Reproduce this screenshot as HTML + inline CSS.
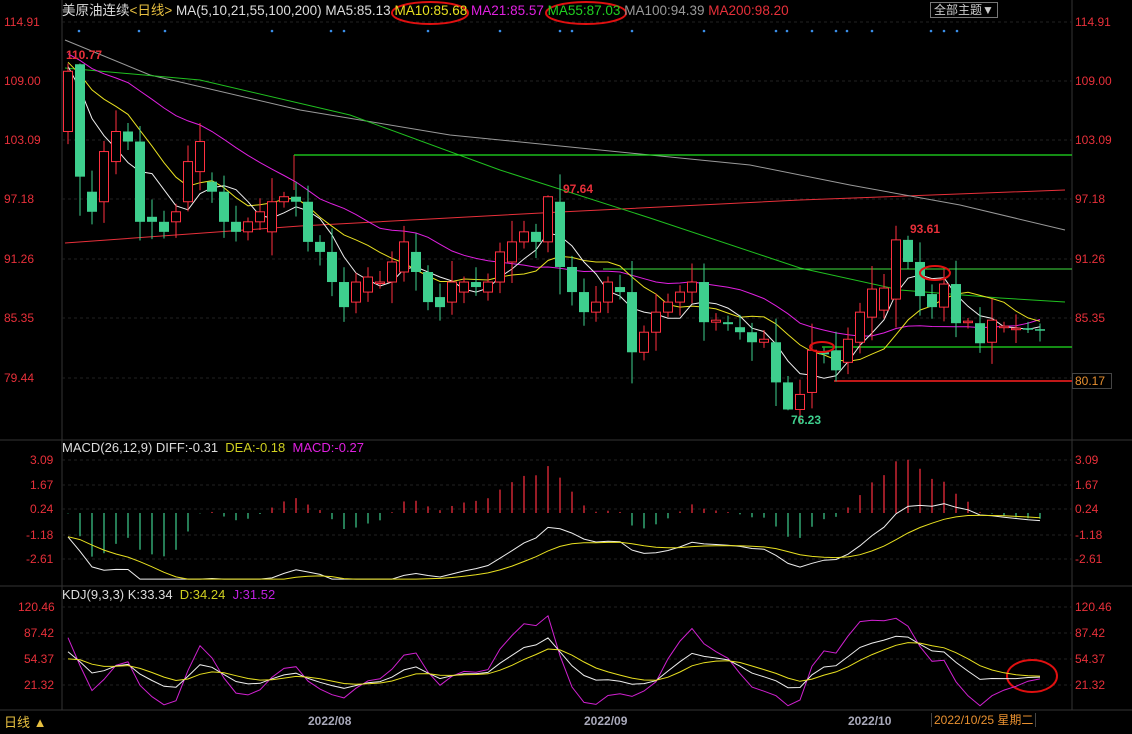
<!DOCTYPE html>
<html><head><meta charset="utf-8">
<style>
html,body{margin:0;padding:0;background:#000;}
body{width:1132px;height:734px;overflow:hidden;position:relative;font-family:"Liberation Sans","Noto Sans CJK SC",sans-serif;}
.t{position:absolute;font-size:12px;white-space:nowrap;line-height:14px;}
.r{color:#e8303a;}
</style></head><body>
<svg id="s" width="1132" height="734" style="position:absolute;left:0;top:0" xmlns="http://www.w3.org/2000/svg"></svg>

<div class="t" style="left:62px;top:4px;color:#ddd;font-size:13.5px">美原油连续<span style="color:#e8c040">&lt;日线&gt;</span> <span style="color:#ddd">MA(5,10,21,55,100,200) MA5:85.13</span> <span style="color:#e8e020">MA10:85.68</span> <span style="color:#e020e0">MA21:85.57</span> <span style="color:#20d020">MA55:87.03</span> <span style="color:#999">MA100:94.39</span> <span style="color:#e8303a">MA200:98.20</span></div>
<div class="t" style="left:930px;top:2px;color:#ccc;border:1px solid #777;padding:0 3px;">全部主题▼</div>
<div class="t" style="left:62px;top:441px;color:#ddd;font-size:13px">MACD(26,12,9) DIFF:-0.31 &nbsp;<span style="color:#d0d020">DEA:-0.18</span> &nbsp;<span style="color:#e020e0">MACD:-0.27</span></div>
<div class="t" style="left:62px;top:588px;color:#ddd;font-size:13px">KDJ(9,3,3) K:33.34 &nbsp;<span style="color:#d0d020">D:34.24</span> &nbsp;<span style="color:#c020e0">J:31.52</span></div>

<div class="t r" style="left:4px;top:15px">114.91</div><div class="t r" style="left:1075px;top:15px">114.91</div>
<div class="t r" style="left:4px;top:74px">109.00</div><div class="t r" style="left:1075px;top:74px">109.00</div>
<div class="t r" style="left:4px;top:133px">103.09</div><div class="t r" style="left:1075px;top:133px">103.09</div>
<div class="t r" style="left:4px;top:192px">97.18</div><div class="t r" style="left:1075px;top:192px">97.18</div>
<div class="t r" style="left:4px;top:252px">91.26</div><div class="t r" style="left:1075px;top:252px">91.26</div>
<div class="t r" style="left:4px;top:311px">85.35</div><div class="t r" style="left:1075px;top:311px">85.35</div>
<div class="t r" style="left:4px;top:371px">79.44</div>
<div class="t" style="left:1072px;top:373px;color:#e89030;border:1px solid #444;padding:0 6px 0 2px;">80.17</div>

<div class="t r" style="left:30px;top:453px">3.09</div><div class="t r" style="left:1075px;top:453px">3.09</div>
<div class="t r" style="left:30px;top:478px">1.67</div><div class="t r" style="left:1075px;top:478px">1.67</div>
<div class="t r" style="left:30px;top:502px">0.24</div><div class="t r" style="left:1075px;top:502px">0.24</div>
<div class="t r" style="left:26px;top:528px">-1.18</div><div class="t r" style="left:1075px;top:528px">-1.18</div>
<div class="t r" style="left:26px;top:552px">-2.61</div><div class="t r" style="left:1075px;top:552px">-2.61</div>

<div class="t r" style="left:18px;top:600px">120.46</div><div class="t r" style="left:1075px;top:600px">120.46</div>
<div class="t r" style="left:24px;top:626px">87.42</div><div class="t r" style="left:1075px;top:626px">87.42</div>
<div class="t r" style="left:24px;top:652px">54.37</div><div class="t r" style="left:1075px;top:652px">54.37</div>
<div class="t r" style="left:24px;top:678px">21.32</div><div class="t r" style="left:1075px;top:678px">21.32</div>

<div class="t" style="left:66px;top:48px;color:#e8303a;font-weight:bold">110.77</div>
<div class="t" style="left:563px;top:182px;color:#e8303a;font-weight:bold">97.64</div>
<div class="t" style="left:910px;top:222px;color:#e8303a;font-weight:bold">93.61</div>
<div class="t" style="left:791px;top:413px;color:#3ecf8e;font-weight:bold">76.23</div>

<div class="t" style="left:4px;top:716px;color:#e8c040;font-size:13px">日线 ▲</div>
<div class="t" style="left:308px;top:714px;color:#aab;font-weight:bold">2022/08</div>
<div class="t" style="left:584px;top:714px;color:#aab;font-weight:bold">2022/09</div>
<div class="t" style="left:848px;top:714px;color:#aab;font-weight:bold">2022/10</div>
<div class="t" style="left:931px;top:713px;color:#e89030;border-left:1px solid #444;border-right:1px solid #444;padding:0 2px">2022/10/25 星期二</div>

<script>
var s=document.getElementById('s'),h='';
function L(x1,y1,x2,y2,c,w,d){h+='<line x1="'+x1+'" y1="'+y1+'" x2="'+x2+'" y2="'+y2+'" stroke="'+c+'" stroke-width="'+(w||1)+'"'+(d?' stroke-dasharray="'+d+'"':'')+'/>';}
function P(pts,c,w){h+='<polyline fill="none" stroke="'+c+'" stroke-width="'+(w||1)+'" points="'+pts.map(function(p){return p[0].toFixed(1)+','+p[1].toFixed(1)}).join(' ')+'"/>';}
L(62,0,62,710,'#333');L(1072,0,1072,710,'#333');
L(0,440,1132,440,'#333');L(0,586,1132,586,'#333');L(0,710,1132,710,'#333');
[22,81,140,199,259,318,378].forEach(function(y){L(62,y,1072,y,'#222',1,'3,3')});
[460,485,509,535,559].forEach(function(y){L(62,y,1072,y,'#222',1,'3,3')});
[607,633,659,685].forEach(function(y){L(62,y,1072,y,'#222',1,'3,3')});
[79,139,165,272,331,344,428,500,560,572,632,704,776,787,812,836,847,872,931,944,957].forEach(function(x){h+='<circle cx="'+x+'" cy="31" r="1.3" fill="#3a8ee8"/>'});
var Y=function(p){return 22+(114.91-p)*10.036;};
var oc=[[104,110],[110.7,99.5],[98,96],[97,102],[101,104],[104,103],[103,95],[95.5,95],[95,94],[95,96],[97,101],[100,103],[99,98],[98,95],[95,94],[94,95],[95,96],[94,97],[97,97.5],[97.5,97],[97,93],[93,92],[92,89],[89,86.5],[87,89],[88,89.5],[89,89],[89,91],[90,93],[92,90],[90,87],[87.5,86.5],[87,89],[88,89],[89,88.5],[88,89],[89,92],[91,93],[93,94],[94,93],[93,97.5],[97,90.5],[90.5,88],[88,86],[86,87],[87,89],[88.5,88],[88,82],[82,84],[84,86],[86,87],[87,88],[88,89],[89,85],[85,85.2],[85,84.8],[84.5,84],[84,83],[83,83.3],[83,79],[79,76.3],[76.3,77.8],[78,82.2],[82,81.8],[82.2,80.2],[81,83.3],[83,86],[85.5,88.3],[86.2,88.4],[87.3,93.2],[93.2,91],[91,87.6],[87.8,86.5],[86.5,88.8],[88.8,84.9],[85,85.1],[84.9,82.9],[83,85.2],[84.5,84.6],[84.3,84.4],[84.4,84.3],[84.3,84.2]];
var n=oc.length,X=function(i){return 68+i*12;};
var O=[],C=[],Hh=[],Lw=[];
for(var i=0;i<n;i++){var o=oc[i][0],c=oc[i][1];O.push(o);C.push(c);var r=Math.abs(o-c)*0.25+0.6+((i*7)%5)*0.25;Hh.push(Math.max(o,c)+r*((i%3)?1:0.5));Lw.push(Math.min(o,c)-r*((i%2)?1:0.6));}
Hh[0]=110.77;Hh[1]=110.77;Lw[60]=76.23;Hh[40]=97.64;Hh[70]=93.61;
P([[65,243],[300,226],[560,212],[800,200],[1065,190]],'#e8303a',1);
L(294,155,294,190,'#e8303a');
P([[65,40],[150,75],[300,110],[450,135],[600,150],[750,165],[850,185],[960,205],[1065,230]],'#999',1);
P([[65,68],[200,80],[350,115],[500,170],[650,218],[800,268],[900,290],[1000,298],[1065,302]],'#20c020',1);
L(294,155,1072,155,'#20e020',1.2);L(603,269,1072,269,'#40e040',1);L(822,347,1072,347,'#20e020',1.2);L(834,381,1072,381,'#ff2020',1.5);
var pre=[];for(var k=0;k<25;k++)pre.push(114-k*0.15);
var all=pre.concat(C);
function ma(p,c){var pts=[];for(var i=0;i<n;i++){var j=i+pre.length,s=0;for(var q=0;q<p;q++)s+=all[j-q];pts.push([X(i),Y(s/p)]);}P(pts,c,1);}
ma(21,'#e020e0');ma(10,'#e8e020');ma(5,'#eee');
for(var i=0;i<n;i++){var x=X(i),o=O[i],c=C[i],up=c>=o,col=up?'#ff3040':'#3ecf8e';
L(x,Y(Hh[i]),x,Y(Lw[i]),col,1);
var y1=Y(Math.max(o,c)),y2=Y(Math.min(o,c));if(y2-y1<1.5)y2=y1+1.5;
if(up)h+='<rect x="'+(x-4.5)+'" y="'+y1+'" width="9" height="'+(y2-y1)+'" fill="#000" stroke="'+col+'" stroke-width="1"/>';
else h+='<rect x="'+(x-5)+'" y="'+y1+'" width="10" height="'+(y2-y1)+'" fill="'+col+'"/>';}
function E(cx,cy,rx,ry){h+='<ellipse cx="'+cx+'" cy="'+cy+'" rx="'+rx+'" ry="'+ry+'" fill="none" stroke="#e01010" stroke-width="2"/>';}
E(822,347,12,5);E(935,273,15,7);E(430,13,38,11);E(586,13,40,11);E(1032,676,25,16);
var ap=[];for(var k=0;k<60;k++)ap.push(122-k*0.2);var A=ap.concat(C);
var e12=A[0],e26=A[0],dea=0,D=[],M=[],DE=[];
for(var j=0;j<A.length;j++){e12=e12+(A[j]-e12)*2/13;e26=e26+(A[j]-e26)*2/27;var d=e12-e26;dea=dea+(d-dea)*2/10;if(j>=ap.length){D.push(d);DE.push(dea);M.push(2*(d-dea));}}
var MY=function(v){return 513-v*17.4;};
for(var i=0;i<n;i++){var v=Math.max(-3,Math.min(3.2,M[i]));L(X(i),513,X(i),MY(v),v>=0?'#ff3040':'#3ecf8e',1.2);}
P(D.map(function(v,i){return [X(i),MY(Math.max(-3.8,v))]}),'#eee',1);
P(DE.map(function(v,i){return [X(i),MY(Math.max(-3.8,v))]}),'#e8e020',1);
var K=50,Dd=50,KK=[],DD=[],JJ=[];
for(var i=0;i<n;i++){var hi=-1e9,lo=1e9;for(var q=Math.max(0,i-8);q<=i;q++){hi=Math.max(hi,Hh[q]);lo=Math.min(lo,Lw[q]);}var rsv=(C[i]-lo)/(hi-lo||1)*100;K=(2*K+rsv)/3;Dd=(2*Dd+K)/3;KK.push(K);DD.push(Dd);JJ.push(3*K-2*Dd);}
var KY=function(v){return 685-(v-21.32)*0.787;};
P(JJ.map(function(v,i){return [X(i),KY(Math.max(-5,Math.min(122,v)))]}),'#d020d0',1);
P(KK.map(function(v,i){return [X(i),KY(v)]}),'#eee',1);
P(DD.map(function(v,i){return [X(i),KY(v)]}),'#e8e020',1);
s.innerHTML=h;
</script>
</body></html>
